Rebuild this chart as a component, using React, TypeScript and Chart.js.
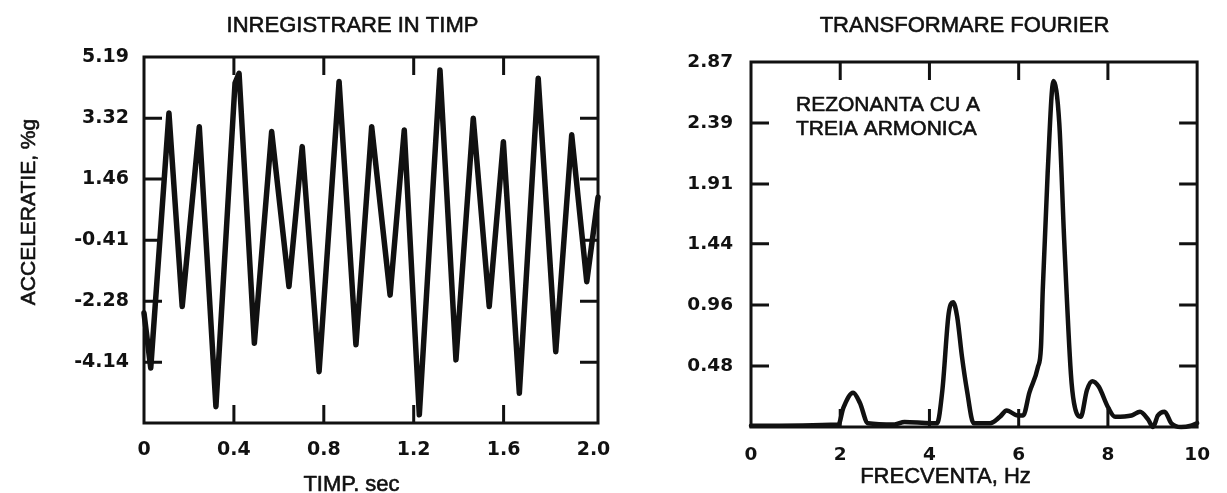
import React, { useEffect, useRef } from 'react';
import { Chart, registerables } from 'chart.js';

Chart.register(...registerables);

// ---------- data: time record ----------
const timeValues = [0.0, 0.03, 0.111, 0.17, 0.246, 0.32, 0.405, 0.423, 0.491, 0.568, 0.645, 0.704, 0.779, 0.868, 0.943, 1.013, 1.095, 1.158, 1.225, 1.317, 1.388, 1.465, 1.536, 1.599, 1.67, 1.754, 1.832, 1.903, 1.97, 2.02];
const accelValues = [-2.64, -4.32, 3.48, -2.44, 3.06, -5.5, 4.39, 4.69, -3.56, 2.91, -1.83, 2.45, -4.43, 4.44, -3.61, 3.06, -2.09, 2.96, -5.75, 4.79, -4.07, 3.32, -2.44, 2.6, -5.09, 4.54, -3.82, 2.81, -1.68, 0.9];
const timeTickValues = [0, 0.4, 0.8, 1.2, 1.6, 2.0];
const timeTickLabels = ['0', '0.4', '0.8', '1.2', '1.6', '2.0'];
const accelTickValues = [-4.14, -2.28, -0.41, 1.46, 3.32, 5.19];
const accelTickLabels = ['-4.14', '-2.28', '-0.41', '1.46', '3.32', '5.19'];

// ---------- data: Fourier transform ----------
const freqValues = [0, 1.96, 2.07, 2.29, 2.44, 2.62, 3.22, 3.44, 4.03, 4.17, 4.29, 4.43, 4.53, 4.62, 4.73, 4.84, 4.99, 5.36, 5.58, 5.73, 5.98, 6.1, 6.24, 6.43, 6.5, 6.54, 6.65, 6.78, 6.91, 7.02, 7.17, 7.24, 7.39, 7.53, 7.65, 7.79, 8.01, 8.16, 8.53, 8.72, 8.9, 9.01, 9.12, 9.27, 9.42, 9.64, 9.86, 10.0];
const ampValues = [0.01, 0.02, 0.15, 0.27, 0.19, 0.03, 0.02, 0.04, 0.03, 0.03, 0.29, 0.89, 0.98, 0.87, 0.55, 0.29, 0.03, 0.03, 0.08, 0.13, 0.09, 0.09, 0.27, 0.47, 0.63, 1.08, 2.0, 2.72, 2.39, 1.47, 0.42, 0.19, 0.08, 0.29, 0.36, 0.32, 0.15, 0.08, 0.09, 0.12, 0.06, 0.0, 0.09, 0.12, 0.03, 0.0, 0.01, 0.03];
const freqTickValues = [0, 2, 4, 6, 8, 10];
const freqTickLabels = ['0', '2', '4', '6', '8', '10'];
const ampTickValues = [0.48, 0.96, 1.44, 1.91, 2.39, 2.87];
const ampTickLabels = ['0.48', '0.96', '1.44', '1.91', '2.39', '2.87'];

// ---------- texts ----------
const leftTitle = 'INREGISTRARE IN TIMP';
const leftXTitle = 'TIMP. sec';
const leftYTitle = 'ACCELERATIE, %g';
const rightTitle = 'TRANSFORMARE FOURIER';
const rightXTitle = 'FRECVENTA, Hz';
const noteLines = ['REZONANTA CU A', 'TREIA ARMONICA'];

const INK = '#111111';
const TEXT_FAMILY = '"Liberation Sans", Arial, Helvetica, sans-serif';

type TextItem = { text: string; x: number; y: number; size: number; align?: CanvasTextAlign; rotate?: number };

function textPlugin(items: TextItem[]) {
  return {
    id: 'freeText',
    afterDraw(chart: any) {
      const ctx = chart.ctx as CanvasRenderingContext2D;
      items.forEach((it) => {
        ctx.save();
        ctx.font = `${it.size}px ${TEXT_FAMILY}`;
        ctx.fillStyle = INK;
        ctx.strokeStyle = INK;
        ctx.lineWidth = 0.6;
        ctx.lineJoin = 'round';
        ctx.textAlign = it.align || 'center';
        ctx.textBaseline = 'alphabetic';
        ctx.translate(it.x, it.y);
        if (it.rotate) ctx.rotate(it.rotate);
        ctx.fillText(it.text, 0, 0);
        ctx.strokeText(it.text, 0, 0);
        ctx.restore();
      });
    },
  };
}

const framePlugin = {
  id: 'frameTicks',
  beforeDatasetsDraw(chart: any) {
    const ctx = chart.ctx as CanvasRenderingContext2D;
    const { left, right, top, bottom } = chart.chartArea;
    const xs = chart.scales.x;
    const ys = chart.scales.y;
    const len = 18;
    ctx.save();
    ctx.strokeStyle = INK;
    ctx.lineWidth = 3;
    ctx.lineCap = 'butt';
    ctx.strokeRect(left, top, right - left, bottom - top);
    ctx.beginPath();
    xs.ticks.forEach((t: any) => {
      const p = xs.getPixelForValue(t.value);
      if (p - left < 10 || right - p < 10) return;
      ctx.moveTo(p, bottom);
      ctx.lineTo(p, bottom - len);
      ctx.moveTo(p, top);
      ctx.lineTo(p, top + len);
    });
    ys.ticks.forEach((t: any) => {
      const p = ys.getPixelForValue(t.value);
      if (p - top < 10 || bottom - p < 10) return;
      ctx.moveTo(left, p);
      ctx.lineTo(left + len, p);
      ctx.moveTo(right, p);
      ctx.lineTo(right - len, p);
    });
    ctx.stroke();
    ctx.restore();
  },
};

type Params = {
  xs: number[];
  ys: number[];
  lineWidth: number;
  smooth: boolean;
  xMin: number;
  xMax: number;
  yMin: number;
  yMax: number;
  xTicks: number[];
  xLabels: string[];
  yTicks: number[];
  yLabels: string[];
  padTop: number;
  padRight: number;
  xHeight: number;
  yWidth: number;
  xPad: number;
  yPad: number;
  tickSize: number;
  texts: TextItem[];
};

function makeConfig(p: Params): any {
  const tickFont = { family: '"DejaVu Sans", Verdana, sans-serif', weight: 'bold', size: p.tickSize };
  return {
    type: 'line',
    data: {
      datasets: [
        {
          data: p.xs.map((x, i) => ({ x, y: p.ys[i] })),
          borderColor: INK,
          backgroundColor: INK,
          borderWidth: p.lineWidth,
          pointRadius: 0,
          pointHoverRadius: 0,
          tension: 0,
          cubicInterpolationMode: p.smooth ? 'monotone' : 'default',
          borderJoinStyle: 'round',
          borderCapStyle: 'round',
          fill: false,
          clip: 6,
        },
      ],
    },
    options: {
      responsive: false,
      animation: false,
      devicePixelRatio: 1,
      events: [],
      layout: { padding: { top: p.padTop, right: p.padRight, left: 0, bottom: 0 } },
      plugins: { legend: { display: false }, tooltip: { enabled: false }, title: { display: false } },
      scales: {
        x: {
          type: 'linear',
          position: 'bottom',
          min: p.xMin,
          max: p.xMax,
          grid: { display: false, drawTicks: false },
          border: { display: false },
          afterFit: (s: any) => {
            s.height = p.xHeight;
          },
          afterBuildTicks: (s: any) => {
            s.ticks = p.xTicks.map((v) => ({ value: v }));
          },
          ticks: {
            autoSkip: false,
            maxRotation: 0,
            minRotation: 0,
            padding: p.xPad,
            color: INK,
            font: tickFont,
            callback: (_v: any, i: number) => p.xLabels[i],
          },
        },
        y: {
          type: 'linear',
          position: 'left',
          min: p.yMin,
          max: p.yMax,
          grid: { display: false, drawTicks: false },
          border: { display: false },
          afterFit: (s: any) => {
            s.width = p.yWidth;
          },
          afterBuildTicks: (s: any) => {
            s.ticks = p.yTicks.map((v) => ({ value: v }));
          },
          ticks: {
            autoSkip: false,
            padding: p.yPad,
            color: INK,
            font: tickFont,
            callback: (_v: any, i: number) => p.yLabels[i],
          },
        },
      },
    },
    plugins: [framePlugin, textPlugin(p.texts)],
  };
}

const LEFT_W = 640;
const RIGHT_X = 640;
const RIGHT_W = 587;
const H = 493;

export default function App() {
  const leftRef = useRef<HTMLCanvasElement | null>(null);
  const rightRef = useRef<HTMLCanvasElement | null>(null);

  useEffect(() => {
    const left = new Chart(
      leftRef.current as HTMLCanvasElement,
      makeConfig({
        xs: timeValues,
        ys: accelValues,
        lineWidth: 5.5,
        smooth: false,
        xMin: 0,
        xMax: 2.02,
        yMin: -6.0,
        yMax: 5.19,
        xTicks: timeTickValues,
        xLabels: timeTickLabels,
        yTicks: accelTickValues,
        yLabels: accelTickLabels,
        padTop: 57,
        padRight: LEFT_W - 598,
        xHeight: H - 423,
        yWidth: 144,
        xPad: 16,
        yPad: 15,
        tickSize: 19,
        texts: [
          { text: leftTitle, x: 352.5, y: 32, size: 22 },
          { text: leftXTitle, x: 351.5, y: 491, size: 22 },
          { text: leftYTitle, x: 35, y: 212, size: 21, rotate: -Math.PI / 2 },
        ],
      })
    );
    const right = new Chart(
      rightRef.current as HTMLCanvasElement,
      makeConfig({
        xs: freqValues,
        ys: ampValues,
        lineWidth: 4.5,
        smooth: true,
        xMin: 0,
        xMax: 10,
        yMin: 0,
        yMax: 2.87,
        xTicks: freqTickValues,
        xLabels: freqTickLabels,
        yTicks: ampTickValues,
        yLabels: ampTickLabels,
        padTop: 62,
        padRight: RIGHT_W - (1203 - RIGHT_X),
        xHeight: H - 427,
        yWidth: 751 - RIGHT_X,
        xPad: 17,
        yPad: 18,
        tickSize: 18.5,
        texts: [
          { text: rightTitle, x: 964.5 - RIGHT_X, y: 32, size: 22 },
          { text: rightXTitle, x: 945.5 - RIGHT_X, y: 483, size: 22 },
          { text: noteLines[0], x: 796 - RIGHT_X, y: 111, size: 21, align: 'left' },
          { text: noteLines[1], x: 796 - RIGHT_X, y: 135, size: 21, align: 'left' },
        ],
      })
    );
    return () => {
      left.destroy();
      right.destroy();
    };
  }, []);

  return (
    <div
      style={{
        position: 'fixed',
        left: 0,
        top: 0,
        width: 1227,
        height: H,
        overflow: 'hidden',
        background: '#ffffff',
      }}
    >
      <canvas ref={leftRef} width={LEFT_W} height={H} style={{ position: 'absolute', left: 0, top: 0 }} />
      <canvas ref={rightRef} width={RIGHT_W} height={H} style={{ position: 'absolute', left: RIGHT_X, top: 0 }} />
    </div>
  );
}
